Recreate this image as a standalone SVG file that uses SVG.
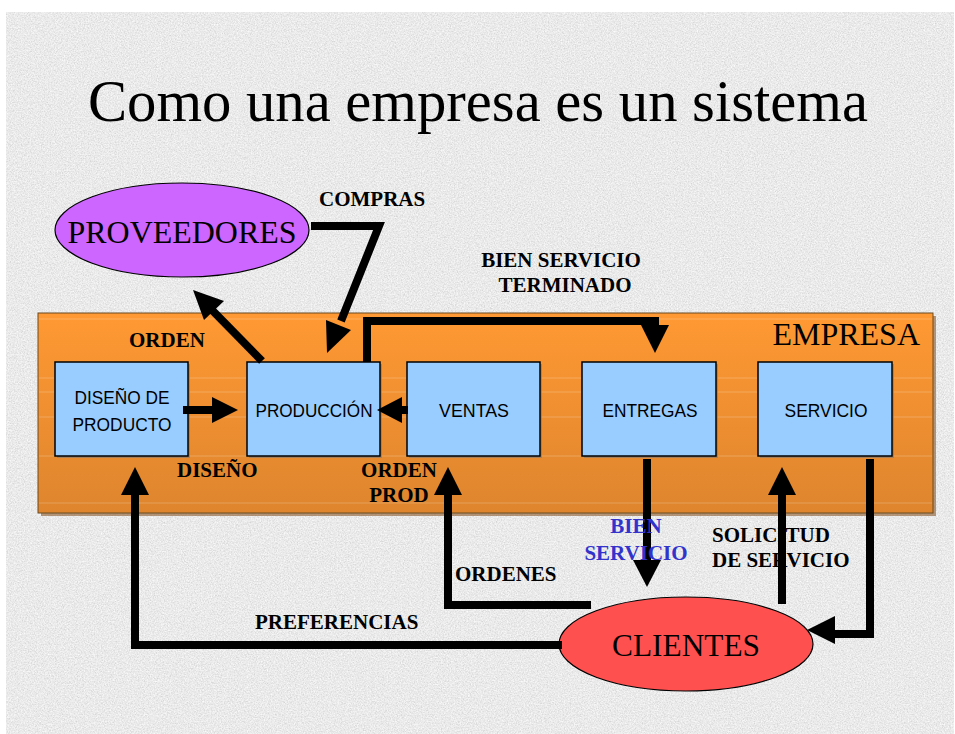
<svg xmlns="http://www.w3.org/2000/svg" width="955" height="734" viewBox="0 0 955 734">
<defs>
<filter id="noise" x="0" y="0" width="100%" height="100%">
<feTurbulence type="fractalNoise" baseFrequency="0.85" numOctaves="2" seed="7" result="t"/>
<feColorMatrix in="t" type="matrix" values="0 0 0 0 0.6  0 0 0 0 0.6  0 0 0 0 0.6  1.6 0 0 0 -0.62" result="dark"/>
<feTurbulence type="fractalNoise" baseFrequency="0.7" numOctaves="2" seed="21" result="t2"/>
<feColorMatrix in="t2" type="matrix" values="0 0 0 0 1  0 0 0 0 1  0 0 0 0 1  1.8 0 0 0 -0.7" result="light"/>
<feMerge><feMergeNode in="dark"/><feMergeNode in="light"/></feMerge>
</filter>
<linearGradient id="orange" x1="0" y1="0" x2="0" y2="1">
<stop offset="0" stop-color="#ff9933"/>
<stop offset="1" stop-color="#de852e"/>
</linearGradient>
<style>
.box{fill:#99ccff;stroke:#000;stroke-width:1.5}
.shadow{fill:#7a7a7a;opacity:0.6}
.btxt{font-family:"Liberation Sans",Arial,sans-serif;font-size:19px;fill:#000;text-anchor:middle}
.lbl{font-family:"Liberation Serif","Times New Roman",serif;font-weight:bold;font-size:21px;fill:#000}
.big{font-family:"Liberation Serif","Times New Roman",serif;font-size:32px;fill:#000}
.ln{fill:none;stroke:#000;stroke-width:8;stroke-linejoin:miter}
.hd{fill:#000}
.stripe{stroke:#ffffff;stroke-opacity:0.22;stroke-width:1}
</style>
</defs>
<rect x="0" y="0" width="955" height="734" fill="#ffffff"/>
<rect x="6" y="12" width="948" height="722" fill="#e9e9e9"/>
<rect x="6" y="12" width="948" height="722" filter="url(#noise)"/>

<text x="88" y="121" font-family="'Liberation Serif','Times New Roman',serif" font-size="59" fill="#000" textLength="780" lengthAdjust="spacingAndGlyphs">Como una empresa es un sistema</text>

<g id="empresa">
<rect x="41" y="316" width="895" height="200" fill="#8a5a2a" opacity="0.6"/>
<rect x="38" y="313" width="895" height="200" fill="url(#orange)" stroke="#6b4a20" stroke-width="1"/>
<line class="stripe" x1="39" y1="319" x2="932" y2="319"/>
<line class="stripe" x1="39" y1="378" x2="932" y2="378"/>
<line class="stripe" x1="39" y1="392" x2="932" y2="392"/>
<line class="stripe" x1="39" y1="417" x2="932" y2="417"/>
<line class="stripe" x1="39" y1="456" x2="932" y2="456"/>
<line class="stripe" x1="39" y1="503" x2="932" y2="503"/>
<text class="big" x="920" y="345" text-anchor="end">EMPRESA</text>
</g>

<g id="proveedores">
<ellipse cx="182" cy="230" rx="127" ry="47" fill="#cc66ff" stroke="#000" stroke-width="1.2"/>
<text class="big" x="182" y="243" text-anchor="middle" textLength="229" lengthAdjust="spacingAndGlyphs">PROVEEDORES</text>
</g>

<g id="clientes">
<ellipse cx="686" cy="644" rx="127" ry="47" fill="#ff5050" stroke="#000" stroke-width="1.2"/>
<text class="big" x="686" y="656" text-anchor="middle" textLength="148" lengthAdjust="spacingAndGlyphs">CLIENTES</text>
</g>

<g id="diseno">
<rect class="shadow" x="57" y="364" width="133" height="94"/>
<rect class="box" x="55" y="362" width="133" height="94"/>
<text class="btxt" x="122" y="404" textLength="95" lengthAdjust="spacingAndGlyphs">DISEÑO DE</text>
<text class="btxt" x="122" y="431" textLength="99" lengthAdjust="spacingAndGlyphs">PRODUCTO</text>
</g>
<g id="produccion">
<rect class="shadow" x="249" y="364" width="133" height="94"/>
<rect class="box" x="247" y="362" width="133" height="94"/>
<text class="btxt" x="314" y="417" textLength="117" lengthAdjust="spacingAndGlyphs">PRODUCCIÓN</text>
</g>
<g id="ventas">
<rect class="shadow" x="409" y="364" width="133" height="94"/>
<rect class="box" x="407" y="362" width="133" height="94"/>
<text class="btxt" x="474" y="417" textLength="70" lengthAdjust="spacingAndGlyphs">VENTAS</text>
</g>
<g id="entregas">
<rect class="shadow" x="584" y="364" width="134" height="94"/>
<rect class="box" x="582" y="362" width="134" height="94"/>
<text class="btxt" x="650" y="417" textLength="95" lengthAdjust="spacingAndGlyphs">ENTREGAS</text>
</g>
<g id="servicio">
<rect class="shadow" x="760" y="364" width="134" height="94"/>
<rect class="box" x="758" y="362" width="134" height="94"/>
<text class="btxt" x="826" y="417" textLength="83" lengthAdjust="spacingAndGlyphs">SERVICIO</text>
</g>

<g id="labels-under">
<text class="lbl" x="712" y="542">SOLICITUD</text>
<text class="lbl" x="712" y="567">DE SERVICIO</text>
</g>

<g id="connectors">
<!-- diseño -> produccion -->
<line class="ln" x1="183" y1="410" x2="214" y2="410"/>
<polygon class="hd" points="212,397 238,410 212,423"/>
<!-- ventas -> produccion -->
<line class="ln" x1="400" y1="410" x2="408" y2="410"/>
<polygon class="hd" points="402,397 377,410 402,423"/>
<!-- produccion -> proveedores (ORDEN) -->
<line class="ln" x1="262" y1="361" x2="212" y2="310"/>
<polygon class="hd" points="193,290 224,301 204,320"/>
<!-- proveedores -> produccion (COMPRAS) -->
<polyline class="ln" points="311,226 379,226 341,321"/>
<polygon class="hd" points="327,353 351,330 326,320"/>
<!-- produccion -> entregas -->
<polyline class="ln" points="367,362 367,321 655,321 655,328"/>
<polygon class="hd" points="641,325 669,325 655,353"/>
<!-- entregas -> clientes -->
<line class="ln" x1="647" y1="459" x2="647" y2="562"/>
<polygon class="hd" points="633,560 661,560 647,587"/>
<!-- clientes -> servicio -->
<line class="ln" x1="782" y1="604" x2="782" y2="493"/>
<polygon class="hd" points="768,495 796,495 782,467"/>
<!-- servicio -> clientes -->
<polyline class="ln" points="870,459 870,634 833,634"/>
<polygon class="hd" points="835,616 835,644 807,630"/>
<!-- clientes -> ventas -->
<polyline class="ln" points="591,605 448,605 448,493"/>
<polygon class="hd" points="434,495 462,495 448,467"/>
<!-- clientes -> diseño -->
<polyline class="ln" points="562,645 135,645 135,493"/>
<polygon class="hd" points="121,495 149,495 135,467"/>
</g>

<g id="labels">
<text class="lbl" x="319" y="206">COMPRAS</text>
<text class="lbl" x="561" y="267" text-anchor="middle">BIEN SERVICIO</text>
<text class="lbl" x="565" y="292" text-anchor="middle">TERMINADO</text>
<text class="lbl" x="129" y="347">ORDEN</text>
<text class="lbl" x="177" y="477">DISEÑO</text>
<text class="lbl" x="399" y="477" text-anchor="middle">ORDEN</text>
<text class="lbl" x="399" y="502" text-anchor="middle">PROD</text>
<text class="lbl" x="455" y="581">ORDENES</text>
<text class="lbl" x="255" y="629">PREFERENCIAS</text>
<text class="lbl" x="636" y="533" text-anchor="middle" style="fill:#3333cc">BIEN</text>
<text class="lbl" x="636" y="560" text-anchor="middle" style="fill:#3333cc">SERVICIO</text>
</g>
</svg>
